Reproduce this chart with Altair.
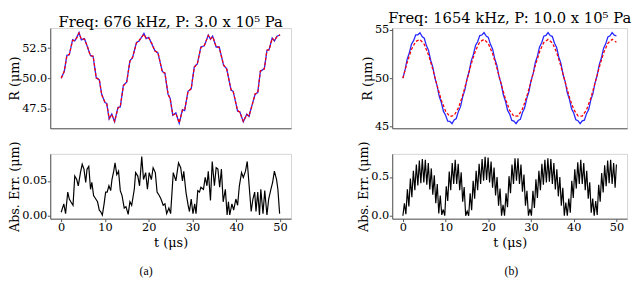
import altair as alt
import pandas as pd

# ---------------- Panel (a): 676 kHz, 3.0 x 10^5 Pa ----------------
a_t = [0.0, 0.7, 1.3, 1.85, 2.6, 3.1, 3.55, 4.07, 4.6, 5.3,
       5.9, 6.67, 7.3, 8.0, 8.7, 9.26, 10.0, 10.4, 10.96, 11.55,
       12.2, 12.96, 13.5, 14.2, 14.96, 15.7, 16.3, 17.2, 17.8, 18.9,
       19.4, 20.0, 20.7, 21.4, 22.1, 23.1, 23.7, 24.4, 24.9, 25.5,
       26.2, 26.96, 27.7, 28.2, 28.96, 29.7, 30.4, 31.1, 31.9, 32.7,
       33.6, 34.1, 34.6, 35.4, 36.1, 37.1, 37.8, 38.8, 39.3, 40.3,
       40.8, 41.6, 42.4, 42.9, 43.4, 44.3, 44.9, 45.5, 46.4, 47.0,
       47.5, 48.2, 48.7, 49.3, 50.0]
a_R_true = [50.0, 50.56, 51.9, 51.95, 53.2, 53.1, 53.4, 53.8, 53.2, 53.3,
            52.7, 51.9, 51.8, 50.05, 49.85, 48.65, 47.96, 47.9, 46.6, 47.0,
            46.36, 47.55, 47.6, 49.4, 49.66, 51.45, 51.7, 52.98, 53.1, 53.74,
            53.3, 53.4, 52.85, 52.3, 52.1, 50.56, 50.4, 48.65, 48.3, 46.9,
            47.1, 46.23, 47.37, 47.3, 48.9, 49.1, 50.94, 51.18, 52.6, 52.7,
            53.6, 53.25, 53.5, 52.6, 52.6, 51.07, 50.8, 49.0, 48.9, 47.25,
            47.2, 46.36, 47.0, 46.8, 47.5, 48.65, 48.8, 50.56, 50.8, 52.3,
            52.4, 53.36, 53.1, 53.5, 53.6]
a_R_pred = [50.0, 50.6, 51.86, 51.99, 53.15, 53.14, 53.36, 53.76, 53.25, 53.26,
            52.74, 51.86, 51.84, 50.0, 49.9, 48.6, 48.0, 47.86, 46.65, 46.96,
            46.4, 47.5, 47.64, 49.35, 49.7, 51.4, 51.74, 52.93, 53.14, 53.66,
            53.34, 53.36, 52.9, 52.26, 52.14, 50.5, 50.44, 48.7, 48.26, 46.95,
            47.06, 46.28, 47.33, 47.34, 48.86, 49.14, 50.9, 51.22, 52.55, 52.74,
            53.55, 53.29, 53.46, 52.64, 52.56, 51.1, 50.76, 49.04, 48.86, 47.3,
            47.16, 46.4, 46.96, 46.85, 47.46, 48.7, 48.76, 50.6, 50.76, 52.34,
            52.36, 53.32, 53.14, 53.46, 53.62]
a_err_t = [0.0, 0.6, 1.0, 1.5, 1.85, 2.2, 2.7, 3.1, 3.55, 3.9,
           4.4, 4.8, 5.2, 5.6, 5.9, 6.3, 6.7, 7.0, 7.4, 7.9,
           8.3, 8.7, 9.0, 9.4, 9.8, 10.15, 10.5, 10.9, 11.3, 11.6,
           12.0, 12.3, 12.7, 13.1, 13.5, 13.9, 14.4, 14.8, 15.3, 15.7,
           16.1, 16.7, 17.0, 17.5, 17.9, 18.4, 18.8, 19.3, 19.7, 20.1,
           20.6, 21.0, 21.5, 21.9, 22.4, 22.8, 23.3, 23.7, 24.1, 24.6,
           25.0, 25.6, 26.2, 26.8, 27.3, 27.7, 28.0, 28.5, 29.0, 29.3,
           29.7, 30.1, 30.5, 30.8, 31.2, 31.6, 31.9, 32.5, 32.9, 33.3,
           33.6, 34.1, 34.5, 35.0, 35.4, 35.8, 36.2, 36.6, 37.0, 37.5,
           37.9, 38.2, 38.5, 39.0, 39.4, 39.9, 40.3, 40.7, 41.2, 41.6,
           42.1, 42.5, 43.0, 43.4, 43.8, 44.2, 44.5, 44.9, 45.3, 45.6,
           46.1, 46.5, 47.0, 47.4, 47.9, 48.3, 48.7, 49.2, 49.5, 49.9]
a_err = [0.005, 0.017, 0.003, 0.034, 0.024, 0.020, 0.015, 0.057, 0.052, 0.043,
         0.062, 0.074, 0.067, 0.048, 0.067, 0.071, 0.038, 0.048, 0.029, 0.024,
         0.020, 0.008, 0.006, 0.001, 0.017, 0.034, 0.034, 0.043, 0.036, 0.052,
         0.064, 0.076, 0.059, 0.064, 0.036, 0.029, 0.011, 0.013, 0.002, 0.020,
         0.015, 0.038, 0.062, 0.057, 0.043, 0.085, 0.052, 0.062, 0.038, 0.062,
         0.052, 0.069, 0.062, 0.034, 0.029, 0.024, 0.015, 0.017, 0.003, 0.011,
         0.003, 0.062, 0.050, 0.076, 0.069, 0.050, 0.064, 0.034, 0.015, 0.006,
         0.024, 0.003, 0.017, 0.003, 0.036, 0.034, 0.041, 0.038, 0.055, 0.043,
         0.064, 0.022, 0.078, 0.043, 0.069, 0.067, 0.041, 0.067, 0.020, 0.038,
         0.001, 0.020, 0.001, 0.017, 0.008, 0.024, 0.015, 0.043, 0.062, 0.055,
         0.064, 0.078, 0.038, 0.006, 0.024, 0.034, 0.006, 0.034, 0.001, 0.038,
         0.003, 0.036, 0.001, 0.024, 0.038, 0.048, 0.064, 0.052, 0.038, 0.003]

# ---------------- Panel (b): 1654 kHz, 10.0 x 10^5 Pa ----------------
b_t_true = [0.0, 0.5, 1.0, 1.5, 2.0, 2.5, 3.0, 3.5, 4.0, 4.5,
            5.0, 5.5, 6.0, 6.5, 7.0, 7.5, 8.0, 8.5, 9.0, 9.5,
            10.0, 10.5, 11.0, 11.5, 12.0, 12.5, 13.0, 13.5, 14.0, 14.5,
            15.0, 15.5, 16.0, 16.5, 17.0, 17.5, 18.0, 18.5, 19.0, 19.5,
            20.0, 20.5, 21.0, 21.5, 22.0, 22.5, 23.0, 23.5, 24.0, 24.5,
            25.0, 25.5, 26.0, 26.5, 27.0, 27.5, 28.0, 28.5, 29.0, 29.5,
            30.0, 30.5, 31.0, 31.5, 32.0, 32.5, 33.0, 33.5, 34.0, 34.5,
            35.0, 35.5, 36.0, 36.5, 37.0, 37.5, 38.0, 38.5, 39.0, 39.5,
            40.0, 40.5, 41.0, 41.5, 42.0, 42.5, 43.0, 43.5, 44.0, 44.5,
            45.0, 45.5, 46.0, 46.5, 47.0, 47.5, 48.0, 48.5, 49.0, 49.5,
            50.0]
b_R_true = [50.00, 50.85, 51.96, 52.59, 53.50, 53.87, 54.46, 54.47, 54.68, 54.29,
            54.12, 53.36, 52.87, 51.85, 51.14, 50.00, 49.24, 48.13, 47.49, 46.57,
            46.18, 45.57, 45.54, 45.31, 45.68, 45.84, 46.57, 47.06, 48.07, 48.76,
            49.91, 50.66, 51.78, 52.43, 53.37, 53.76, 54.40, 54.45, 54.70, 54.34,
            54.21, 53.49, 53.02, 52.02, 51.33, 50.19, 49.43, 48.31, 47.65, 46.70,
            46.29, 45.64, 45.57, 45.30, 45.63, 45.75, 46.45, 46.91, 47.90, 48.58,
            49.71, 50.47, 51.60, 52.26, 53.23, 53.66, 54.33, 54.41, 54.70, 54.39,
            54.29, 53.61, 53.16, 52.19, 51.52, 50.38, 49.63, 48.49, 47.82, 46.84,
            46.40, 45.71, 45.61, 45.30, 45.59, 45.67, 46.34, 46.76, 47.73, 48.40,
            49.53, 50.28, 51.42, 52.10, 53.09, 53.54, 54.25, 54.37, 54.70, 54.43,
            54.36]
b_t_pred = [0, 1, 2, 3, 4, 5, 6, 7, 8, 9,
            10, 11, 12, 13, 14, 15, 16, 17, 18, 19,
            20, 21, 22, 23, 24, 25, 26, 27, 28, 29,
            30, 31, 32, 33, 34, 35, 36, 37, 38, 39,
            40, 41, 42, 43, 44, 45, 46, 47, 48, 49,
            50]
b_R_pred = [50.00, 51.62, 52.96, 53.79, 53.98, 53.49, 52.40, 50.91, 49.26, 47.73,
            46.59, 46.04, 46.16, 46.93, 48.23, 49.83, 51.46, 52.84, 53.74, 54.00,
            53.57, 52.54, 51.07, 49.42, 47.87, 46.68, 46.06, 46.11, 46.83, 48.08,
            49.66, 51.30, 52.72, 53.68, 54.00, 53.64, 52.66, 51.23, 49.59, 48.02,
            46.78, 46.10, 46.08, 46.73, 47.94, 49.50, 51.14, 52.60, 53.60, 54.00,
            53.71]
b_err_t = [0.0, 0.35, 0.7, 1.05, 1.4, 1.75, 2.1, 2.45, 2.8, 3.15,
           3.5, 3.85, 4.2, 4.55, 4.9, 5.25, 5.6, 5.95, 6.3, 6.65,
           7.0, 7.35, 7.7, 8.05, 8.4, 8.75, 9.1, 9.45, 9.8, 10.15,
           10.5, 10.85, 11.2, 11.55, 11.9, 12.25, 12.6, 12.95, 13.3, 13.65,
           14.0, 14.35, 14.7, 15.05, 15.4, 15.75, 16.1, 16.45, 16.8, 17.15,
           17.5, 17.85, 18.2, 18.55, 18.9, 19.25, 19.6, 19.95, 20.3, 20.65,
           21.0, 21.35, 21.7, 22.05, 22.4, 22.75, 23.1, 23.45, 23.8, 24.15,
           24.5, 24.85, 25.2, 25.55, 25.9, 26.25, 26.6, 26.95, 27.3, 27.65,
           28.0, 28.35, 28.7, 29.05, 29.4, 29.75, 30.1, 30.45, 30.8, 31.15,
           31.5, 31.85, 32.2, 32.55, 32.9, 33.25, 33.6, 33.95, 34.3, 34.65,
           35.0, 35.35, 35.7, 36.05, 36.4, 36.75, 37.1, 37.45, 37.8, 38.15,
           38.5, 38.85, 39.2, 39.55, 39.9, 40.25, 40.6, 40.95, 41.3, 41.65,
           42.0, 42.35, 42.7, 43.05, 43.4, 43.75, 44.1, 44.45, 44.8, 45.15,
           45.5, 45.85, 46.2, 46.55, 46.9, 47.25, 47.6, 47.95, 48.3, 48.65,
           49.0, 49.35, 49.7, 50.0]
b_err = [0.00, 0.16, 0.02, 0.34, 0.12, 0.48, 0.24, 0.58, 0.33, 0.66,
         0.39, 0.71, 0.42, 0.73, 0.43, 0.72, 0.40, 0.68, 0.34, 0.61,
         0.27, 0.52, 0.16, 0.41, 0.03, 0.26, 0.01, 0.08, 0.00, 0.38,
         0.19, 0.57, 0.33, 0.68, 0.41, 0.72, 0.41, 0.67, 0.33, 0.56,
         0.18, 0.37, 0.00, 0.06, 0.00, 0.29, 0.07, 0.45, 0.22, 0.58,
         0.33, 0.67, 0.41, 0.73, 0.45, 0.76, 0.46, 0.75, 0.43, 0.70,
         0.36, 0.62, 0.26, 0.50, 0.13, 0.35, 0.00, 0.14, 0.00, 0.29,
         0.11, 0.51, 0.29, 0.66, 0.41, 0.74, 0.45, 0.74, 0.41, 0.66,
         0.31, 0.53, 0.13, 0.32, 0.00, 0.09, 0.00, 0.32, 0.10, 0.47,
         0.23, 0.58, 0.33, 0.67, 0.40, 0.72, 0.43, 0.74, 0.44, 0.73,
         0.41, 0.68, 0.34, 0.60, 0.25, 0.50, 0.13, 0.36, 0.00, 0.17,
         0.00, 0.22, 0.04, 0.45, 0.23, 0.60, 0.35, 0.69, 0.41, 0.72,
         0.41, 0.68, 0.33, 0.58, 0.22, 0.43, 0.04, 0.22, 0.00, 0.19,
         0.01, 0.40, 0.18, 0.55, 0.30, 0.65, 0.38, 0.71, 0.42, 0.72,
         0.41, 0.68, 0.36, 0.66]

x_ticks = [0, 10, 20, 30, 40, 50]
FONT = "DejaVu Serif"
TOP_H = 102
BOT_H = 66


def xscale():
    return alt.Scale(domain=[-2.5, 52.5], nice=False, zero=False)


def top_panel(t_true, r_true, t_pred, r_pred, ydom, yticks, yfmt, title, width):
    d1 = pd.DataFrame({"t": t_true, "R": r_true})
    d2 = pd.DataFrame({"t": t_pred, "R": r_pred})
    x = alt.X("t:Q", scale=xscale(),
              axis=alt.Axis(labels=False, ticks=False, title=None, grid=False))
    y = alt.Y("R:Q", scale=alt.Scale(domain=ydom, nice=False, zero=False),
              axis=alt.Axis(values=yticks, format=yfmt, title="R (μm)", grid=False))
    blue = alt.Chart(d1).mark_line(color="#0000ff", strokeWidth=1.3, opacity=0.85,
                                   clip=True).encode(x=x, y=y)
    red = alt.Chart(d2).mark_line(color="#ff0000", strokeWidth=1.3, strokeDash=[3, 2],
                                  clip=True).encode(x=x, y=y)
    return alt.layer(blue, red).properties(
        width=width, height=TOP_H,
        title=alt.TitleParams(title, font=FONT, fontSize=15, fontWeight="normal",
                              color="black", offset=-2, anchor="middle"))


def err_panel(t, e, ydom, yticks, yfmt, width):
    d = pd.DataFrame({"t": t, "e": e})
    return alt.Chart(d).mark_line(color="black", strokeWidth=1.2, clip=True).encode(
        x=alt.X("t:Q", scale=xscale(),
                axis=alt.Axis(values=x_ticks, format="d", title="t (μs)", grid=False,
                              titlePadding=3)),
        y=alt.Y("e:Q", scale=alt.Scale(domain=ydom, nice=False, zero=False),
                axis=alt.Axis(values=yticks, format=yfmt, title="Abs. Err. (μm)", grid=False)),
    ).properties(width=width, height=BOT_H)


WA = 245
WB = 239

colA = alt.vconcat(
    top_panel(a_t, a_R_true, a_t, a_R_pred, [45.82, 54.18], [47.5, 50.0, 52.5], ".1f",
              "Freq: 676 kHz, P: 3.0 x 10⁵ Pa", WA),
    err_panel(a_err_t, a_err, [-0.0043, 0.089], [0.0, 0.05], ".2f", WA),
    spacing=26, bounds="flush",
    title=alt.TitleParams("(a)", orient="bottom", anchor="middle", font="Liberation Serif",
                          fontSize=12, fontWeight="normal", color="black", offset=17, dx=-4),
)

colB = alt.vconcat(
    top_panel(b_t_true, b_R_true, b_t_pred, b_R_pred, [44.83, 55.17], [45, 50, 55], "d",
              "Freq: 1654 kHz, P: 10.0 x 10⁵ Pa", WB),
    err_panel(b_err_t, b_err, [-0.038, 0.798], [0.0, 0.5], ".1f", WB),
    spacing=26, bounds="flush",
    title=alt.TitleParams("(b)", orient="bottom", anchor="middle", font="Liberation Serif",
                          fontSize=12, fontWeight="normal", color="black", offset=17, dx=17),
)

chart = alt.hconcat(colA, colB, spacing=66).properties(
    padding={"left": 0, "top": 0, "right": 0, "bottom": 0}
).configure_view(
    stroke="#d4d4d4", strokeWidth=1
).configure_axis(
    domainColor="#555555", domainWidth=1, tickColor="#555555", tickSize=3,
    labelFont=FONT, labelFontSize=11.5, labelColor="black", labelPadding=0.5,
    titleFont=FONT, titleFontSize=13, titleFontWeight="normal", titleColor="black",
    titlePadding=0, grid=False
)

chart.save("out.html", embed_options={"renderer": "svg", "actions": False})
